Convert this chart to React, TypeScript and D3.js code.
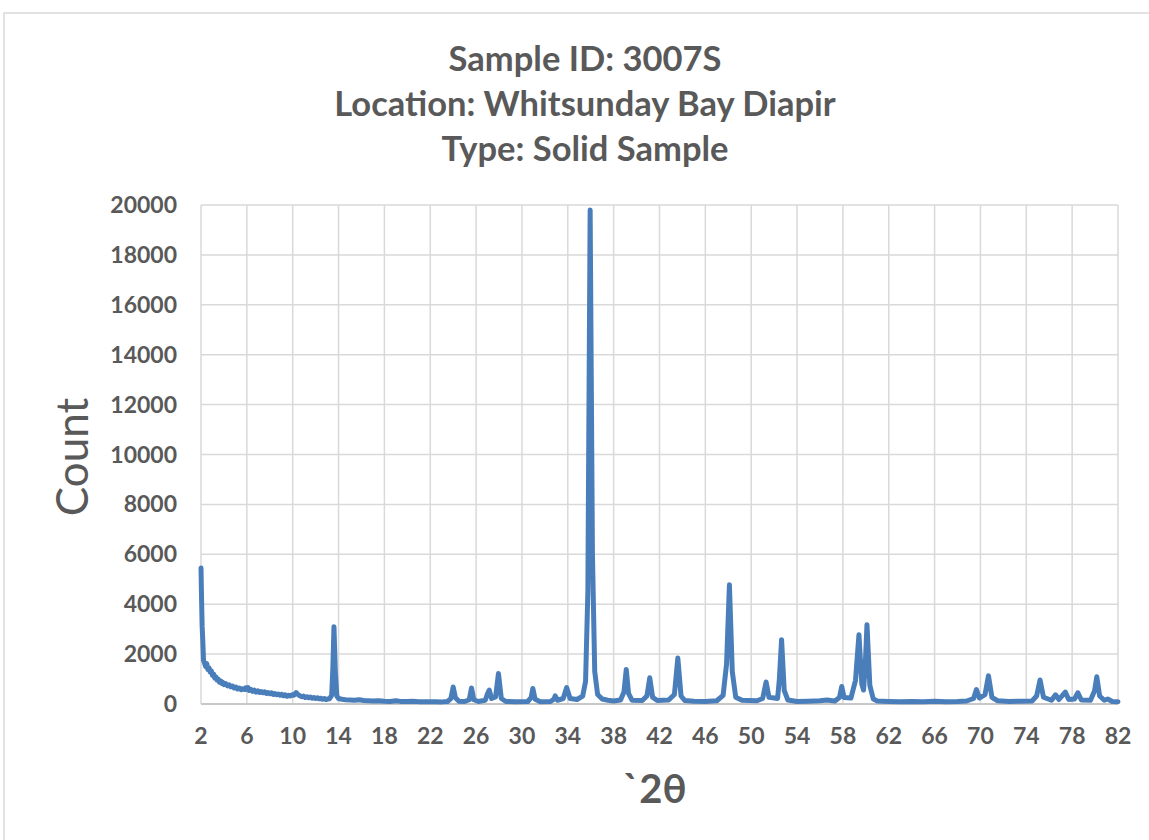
import React from "react";
import * as d3 from "d3";

const titleLines = ["Sample ID: 3007S", "Location: Whitsunday Bay Diapir", "Type: Solid Sample"];
const yLabel = "Count";
const xLabel = "`2θ";
const xTicks = [2, 6, 10, 14, 18, 22, 26, 30, 34, 38, 42, 46, 50, 54, 58, 62, 66, 70, 74, 78, 82];
const yTicks = [0, 2000, 4000, 6000, 8000, 10000, 12000, 14000, 16000, 18000, 20000];

// [2θ, count]
const pattern: [number, number][] = [
  [2.0, 5450], [2.05, 4200], [2.1, 3100], [2.15, 2600], [2.22, 1750], [2.3, 1650], [2.4, 1500],
  [2.5, 1620], [2.6, 1380], [2.7, 1450], [2.8, 1280], [2.9, 1330], [3.0, 1150], [3.1, 1200],
  [3.2, 1040], [3.3, 1090], [3.4, 960], [3.5, 1000], [3.6, 880], [3.7, 930], [3.8, 830],
  [3.9, 870], [4.0, 780], [4.15, 820], [4.3, 730], [4.45, 770], [4.6, 690], [4.75, 720],
  [4.9, 640], [5.05, 680], [5.2, 600], [5.35, 640], [5.5, 570], [5.65, 610], [5.8, 580],
  [5.9, 650], [6.0, 600], [6.1, 660], [6.2, 540], [6.35, 590], [6.5, 510], [6.65, 560],
  [6.8, 480], [6.95, 530], [7.1, 460], [7.25, 500], [7.4, 450], [7.55, 490], [7.7, 420],
  [7.85, 460], [8.0, 410], [8.15, 450], [8.3, 380], [8.45, 420], [8.6, 370], [8.75, 400],
  [8.9, 350], [9.05, 390], [9.2, 330], [9.35, 370], [9.5, 310], [9.65, 350], [9.8, 320],
  [9.95, 370], [10.1, 350], [10.2, 400], [10.3, 460], [10.4, 400], [10.5, 370], [10.65, 320],
  [10.8, 290], [10.95, 320], [11.1, 260], [11.25, 290], [11.4, 250], [11.55, 280], [11.7, 230],
  [11.85, 260], [12.0, 220], [12.15, 250], [12.3, 210], [12.45, 230], [12.6, 190], [12.75, 220],
  [12.9, 180], [13.05, 200], [13.2, 210], [13.4, 350], [13.5, 1400], [13.6, 3100], [13.72, 1300],
  [13.85, 320], [14.0, 220], [14.3, 190], [14.6, 170], [15.0, 160], [15.4, 150], [15.8, 170],
  [16.2, 140], [16.6, 130], [17.0, 120], [17.5, 130], [18.0, 110], [18.5, 100], [19.0, 130],
  [19.4, 105], [20.0, 100], [20.5, 110], [21.0, 95], [21.5, 90], [22.0, 95], [22.5, 90], [23.0, 85],
  [23.5, 100], [23.8, 220], [24.0, 680], [24.2, 250], [24.5, 110], [25.0, 100], [25.4, 170],
  [25.6, 640], [25.8, 170], [26.2, 100], [26.8, 150], [27.0, 420], [27.15, 560], [27.35, 220],
  [27.7, 280], [27.95, 1220], [28.2, 220], [28.6, 100], [29.5, 90], [30.5, 100], [30.8, 260],
  [30.95, 620], [31.15, 190], [31.6, 90], [32.5, 100], [32.8, 200], [32.9, 330], [33.1, 150],
  [33.6, 220], [33.9, 660], [34.2, 220], [34.8, 180], [35.3, 320], [35.55, 900], [35.75, 4500],
  [35.95, 19800], [36.15, 6000], [36.35, 1300], [36.6, 380], [37.0, 200], [37.5, 150], [38.0, 120],
  [38.6, 160], [38.9, 480], [39.1, 1380], [39.3, 430], [39.6, 150], [40.5, 140], [40.9, 320],
  [41.15, 1050], [41.4, 270], [41.8, 140], [42.8, 160], [43.3, 380], [43.6, 1840], [43.88, 320],
  [44.2, 140], [45.0, 110], [46.0, 100], [47.0, 130], [47.55, 350], [47.85, 1600], [48.1, 4780],
  [48.35, 1300], [48.65, 270], [49.2, 150], [50.5, 130], [51.0, 220], [51.3, 880], [51.55, 270],
  [52.3, 220], [52.45, 950], [52.65, 2580], [52.88, 550], [53.2, 160], [54.0, 100], [55.0, 110],
  [56.0, 130], [56.6, 160], [57.3, 120], [57.7, 260], [57.9, 700], [58.1, 260], [58.7, 240],
  [59.1, 950], [59.4, 2780], [59.65, 800], [59.8, 560], [59.95, 1550], [60.1, 3180], [60.35, 750],
  [60.65, 200], [61.0, 120], [62.0, 100], [63.0, 90], [64.0, 100], [65.0, 90], [66.0, 110],
  [67.0, 90], [68.0, 100], [68.8, 120], [69.4, 220], [69.65, 580], [69.9, 240], [70.4, 380],
  [70.7, 1130], [71.0, 270], [71.5, 130], [72.5, 100], [73.5, 110], [74.5, 120], [74.9, 320],
  [75.2, 960], [75.5, 270], [76.2, 150], [76.55, 370], [76.85, 180], [77.4, 480], [77.7, 180],
  [78.2, 200], [78.5, 450], [78.8, 160], [79.6, 150], [79.95, 520], [80.15, 1090], [80.4, 320],
  [80.8, 150], [81.1, 200], [81.5, 100], [82.0, 90],
];

const W = 1149;
const H = 840;
const left = 201;
const right = 1118;
const top = 205;
const bottom = 704;
const textColor = "#595959";
const font = "Lato, 'Open Sans', sans-serif";

export default function App() {
  const x = d3.scaleLinear().domain([2, 82]).range([left, right]);
  const y = d3.scaleLinear().domain([0, 20000]).range([bottom, top]);
  const line = d3
    .line<[number, number]>()
    .x((d) => x(d[0]))
    .y((d) => y(d[1]))
    .curve(d3.curveLinear);

  return (
    <svg width={W} height={H} style={{ position: "absolute", left: 0, top: 0, background: "#fff" }}>
      <rect x={4} y={13} width={W + 20} height={H + 20} fill="#fff" stroke="#d9d9d9" strokeWidth={1.5} />
      {titleLines.map((t, i) => (
        <text
          key={t}
          x={585}
          y={71 + i * 45}
          textAnchor="middle"
          fontFamily={font}
          fontWeight="bold"
          fontSize={34.5}
          fill={textColor}
        >
          {t}
        </text>
      ))}
      {yTicks.map((v) => (
        <line key={"h" + v} x1={left} x2={right} y1={y(v)} y2={y(v)} stroke="#d9d9d9" strokeWidth={1.5} />
      ))}
      {xTicks.map((v) => (
        <line key={"v" + v} x1={x(v)} x2={x(v)} y1={top} y2={bottom} stroke="#d9d9d9" strokeWidth={1.5} />
      ))}
      <line x1={left} x2={right} y1={bottom} y2={bottom} stroke="#bfbfbf" strokeWidth={1.5} />
      {yTicks.map((v) => (
        <text
          key={"yl" + v}
          x={177}
          y={y(v) + 8}
          textAnchor="end"
          fontFamily={font}
          fontWeight="bold"
          fontSize={23}
          fill={textColor}
        >
          {v}
        </text>
      ))}
      {xTicks.map((v) => (
        <text
          key={"xl" + v}
          x={x(v)}
          y={744}
          textAnchor="middle"
          fontFamily={font}
          fontWeight="bold"
          fontSize={23}
          fill={textColor}
        >
          {v}
        </text>
      ))}
      <path d={line(pattern) || ""} fill="none" stroke="#4a7ebb" strokeWidth={5} strokeLinejoin="round" strokeLinecap="round" />
      <text
        transform={`translate(88, 457) rotate(-90)`}
        textAnchor="middle"
        fontFamily={font}
        fontSize={44}
        fill={textColor}
      >
        {yLabel}
      </text>
      <text x={655} y={803} textAnchor="middle" fontFamily={font} fontWeight="bold" fontSize={40} fill={textColor}>
        {xLabel}
      </text>
    </svg>
  );
}
